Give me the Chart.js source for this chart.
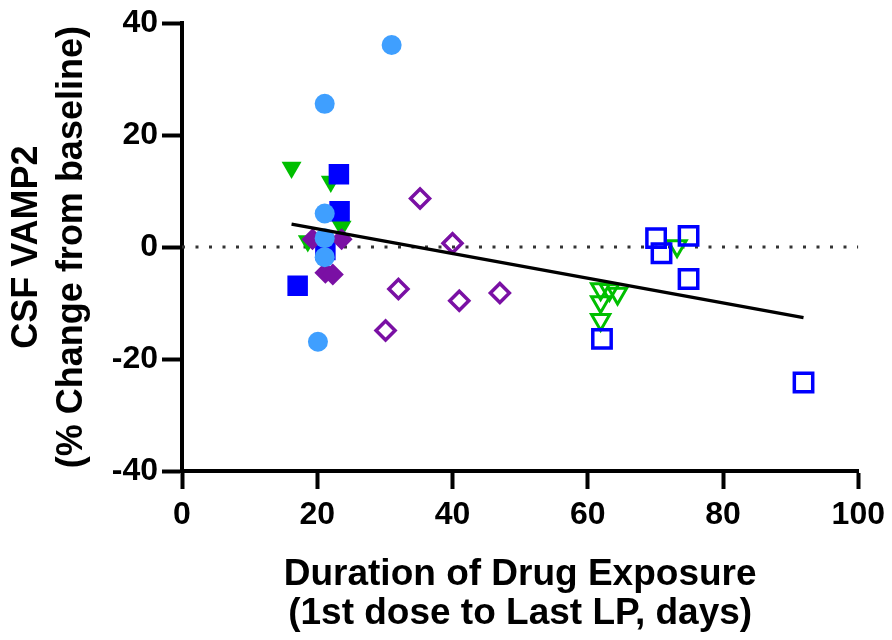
<!DOCTYPE html>
<html>
<head>
<meta charset="utf-8">
<script src="https://cdn.jsdelivr.net/npm/chart.js@4"></script>
<style>
  html, body { margin: 0; padding: 0; background: #fff; }
  #wrap { width: 892px; height: 640px; }
</style>
</head>
<body>
<div id="wrap"><canvas id="vamp2" width="892" height="640"></canvas></div>
<script>
// days of exposure (x) and % change of CSF VAMP2 (y), one pair of arrays per group
const blueDotX = [31.0, 21.1, 20.1, 21.1, 21.1, 21.1];
const blueDotY = [36.1, 25.6, -16.9, 6.0, 1.6, -1.8];

const purpleFillX = [21.2, 22.3, 19.3, 23.6];
const purpleFillY = [-4.6, -4.9, 1.4, 1.4];

const blueFillX = [17.1, 23.2, 23.3, 21.2];
const blueFillY = [-6.9, 13.0, 6.4, -0.5];

const greenFillX = [16.2, 22.0, 18.6, 23.6];
const greenFillY = [14.2, 11.7, 1.1, 3.7];

const blueOpenX = [70.1, 70.9, 74.9, 74.9, 62.1, 91.9];
const blueOpenY = [1.6, -1.1, 2.0, -5.7, -16.4, -24.2];

const greenOpenX = [61.9, 63.2, 64.4, 61.9, 61.9, 73.2];
const greenOpenY = [-7.5, -7.6, -8.3, -9.8, -13.0, 0.2];

const purpleOpenX = [35.2, 40.0, 32.0, 41.0, 47.0, 30.1];
const purpleOpenY = [8.7, 0.7, -7.5, -9.6, -8.2, -14.9];

// fitted line end points
const fitX = [16.2, 91.9];
const fitY = [4.1, -12.6];

const xTicks = [0, 20, 40, 60, 80, 100];
const yTicks = [-40, -20, 0, 20, 40];

const FONT = '"Liberation Sans", Arial, sans-serif';
const BLUE = '#0000FF';
const LIGHT = '#3F9FFF';
const GREEN = '#00BF00';
const PURPLE = '#7A10A4';

const pts = (xs, ys) => xs.map((x, i) => ({ x: x, y: ys[i] }));

function group(xs, ys, style, radius, fill, color, extra) {
  return Object.assign({
    type: 'scatter',
    data: pts(xs, ys),
    pointStyle: style,
    pointRadius: radius,
    pointBackgroundColor: fill ? color : 'rgba(0,0,0,0)',
    pointBorderColor: color,
    pointBorderWidth: fill ? 0 : 3.5,
  }, extra || {});
}

// first dataset ends up on top
const datasets = [
  {
    type: 'line',
    data: pts(fitX, fitY),
    borderColor: '#000',
    borderWidth: 3.5,
    pointRadius: 0,
  },
  group(blueDotX, blueDotY, 'circle', 10, true, LIGHT),
  group(purpleFillX, purpleFillY, 'rectRot', 11, true, PURPLE),
  group(blueFillX, blueFillY, 'rect', 14.5, true, BLUE),
  group(greenFillX, greenFillY, 'triangle', 11.5, true, GREEN, { rotation: 180 }),
  group(blueOpenX, blueOpenY, 'rect', 13, false, BLUE),
  group(greenOpenX, greenOpenY, 'triangle', 10.5, false, GREEN, { rotation: 180, pointBorderWidth: 3 }),
  group(purpleOpenX, purpleOpenY, 'rectRot', 9.5, false, PURPLE),
  {
    type: 'line',
    data: [{ x: xTicks[0], y: 0 }, { x: xTicks[xTicks.length - 1], y: 0 }],
    borderColor: '#333',
    borderWidth: 3,
    borderDash: [3, 10.5],
    pointRadius: 0,
  },
];

new Chart(document.getElementById('vamp2'), {
  type: 'scatter',
  data: { datasets },
  options: {
    responsive: false,
    animation: false,
    events: [],
    layout: { padding: { top: 21, right: 32, bottom: 0, left: 0 } },
    plugins: { legend: { display: false }, tooltip: { enabled: false } },
    scales: {
      x: {
        type: 'linear',
        min: xTicks[0],
        max: xTicks[xTicks.length - 1],
        afterBuildTicks: (s) => { s.ticks = xTicks.map(v => ({ value: v })); },
        afterFit: (s) => { s.height = 169; },
        border: { display: true, color: '#000', width: 4 },
        grid: { drawOnChartArea: false, drawTicks: true, tickLength: 18, tickWidth: 4, tickColor: '#000', color: '#000' },
        ticks: { color: '#000', padding: 7, font: { family: FONT, size: 32, weight: 'bold' } },
        title: {
          display: true,
          text: ['Duration of Drug Exposure', '(1st dose to Last LP, days)'],
          color: '#000',
          padding: { top: 0, bottom: 7 },
          font: { family: FONT, size: 37, weight: 'bold', lineHeight: 1.05 },
        },
      },
      y: {
        type: 'linear',
        min: yTicks[0],
        max: yTicks[yTicks.length - 1],
        afterBuildTicks: (s) => { s.ticks = yTicks.map(v => ({ value: v })); },
        afterFit: (s) => { s.width = 182; },
        border: { display: true, color: '#000', width: 4 },
        grid: { drawOnChartArea: false, drawTicks: true, tickLength: 20, tickWidth: 4, tickColor: '#000', color: '#000' },
        ticks: { color: '#000', padding: 4, font: { family: FONT, size: 32, weight: 'bold' } },
        title: {
          display: true,
          text: ['CSF VAMP2', '(% Change from baseline)'],
          color: '#000',
          padding: { top: 5, bottom: 0 },
          font: { family: FONT, size: 36, weight: 'bold', lineHeight: 1.25 },
        },
      },
    },
  },
});
</script>
</body>
</html>
